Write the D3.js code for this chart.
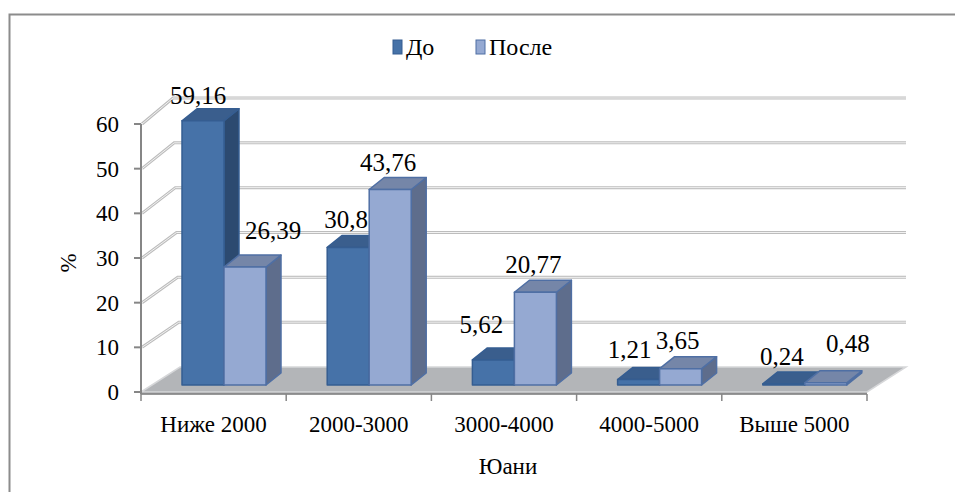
<!DOCTYPE html>
<html>
<head>
<meta charset="utf-8">
<script src="https://cdn.jsdelivr.net/npm/d3@7"></script>
</head>
<body style="margin:0">
<script>
// data
var categories = ["Ниже 2000", "2000-3000", "3000-4000", "4000-5000", "Выше 5000"];
var seriesNames = ["До", "После"];
var before = [59.16, 30.8, 5.62, 1.21, 0.24];
var after = [26.39, 43.76, 20.77, 3.65, 0.48];
var beforeLabels = ["59,16", "30,8", "5,62", "1,21", "0,24"];
var afterLabels = ["26,39", "43,76", "20,77", "3,65", "0,48"];
var yTicks = [0, 10, 20, 30, 40, 50, 60];

var w = 955, h = 492;
var svg = d3.select("body").append("svg")
    .attr("width", w)
    .attr("height", h)
    .attr("font-family", "Liberation Serif");

// chart frame
svg.append("rect")
    .attr("x", 9.5).attr("y", 14.5)
    .attr("width", 960).attr("height", 500)
    .attr("fill", "none")
    .attr("stroke", "#8c8c8c")
    .attr("stroke-width", 2);

//scales: front plane, back wall, bars
var yFront = d3.scaleLinear().domain([0, 60]).range([392, 124]);
var yBack = d3.scaleLinear().domain([0, 60]).range([367, 98]);
var xBack = d3.scaleLinear().domain([0, 60]).range([180, 173]);
var yBar = d3.scaleLinear().domain([0, 60]).range([385, 117]);
var x0 = d3.scaleBand().domain(categories).range([141, 867]);
var x1 = d3.scaleBand().domain(seriesNames).range([41, 125]);
var backRight = 906;
var depth = { dx: 15, dy: -12 };

// floor
svg.append("path")
    .attr("d", "M" + x0.range()[0] + "," + yFront(0) +
        " L" + xBack(0) + "," + yBack(0) +
        " L" + backRight + "," + yBack(0) +
        " L" + x0.range()[1] + "," + yFront(0) + " Z")
    .attr("fill", "#b3b5b8")
    .attr("stroke", "#d6d7d9")
    .attr("stroke-width", 1.5);
svg.append("line")
    .attr("x1", x0.range()[0]).attr("x2", x0.range()[1])
    .attr("y1", yFront(0) + 1.5).attr("y2", yFront(0) + 1.5)
    .attr("stroke", "#9a9b9e").attr("stroke-width", 2);

// gridlines (back wall + side diagonals)
var grid = svg.append("g");
yTicks.filter(function (d) { return d > 0; }).forEach(function (v) {
    var pts = [[x0.range()[0] + 1, yFront(v)], [xBack(v), yBack(v)], [backRight, yBack(v)]];
    grid.append("polyline")
        .attr("points", pts.join(" "))
        .attr("fill", "none")
        .attr("stroke", "#bdbdbd")
        .attr("stroke-width", 3);
    grid.append("polyline")
        .attr("points", pts.join(" "))
        .attr("fill", "none")
        .attr("stroke", "#f2f2f2")
        .attr("stroke-width", 1);
});

// y axis
var axisColor = "#868686";
svg.append("line")
    .attr("x1", 141).attr("x2", 141)
    .attr("y1", yFront(60)).attr("y2", yFront(0) + 2)
    .attr("stroke", axisColor).attr("stroke-width", 2);
svg.selectAll("line.ytick")
    .data(yTicks).enter()
    .append("line")
    .attr("class", "ytick")
    .attr("x1", 134).attr("x2", 141)
    .attr("y1", function (d) { return yFront(d); })
    .attr("y2", function (d) { return yFront(d); })
    .attr("stroke", axisColor).attr("stroke-width", 2);

// all text gets the serif face
function serif(sel, size) {
    return sel.attr("font-family", "Liberation Serif")
        .style("font-family", "'Liberation Serif'")
        .style("font-size", size + "px");
}

serif(svg.selectAll("text.ylab")
    .data(yTicks).enter()
    .append("text")
    .attr("class", "ylab")
    .attr("x", 119)
    .attr("y", function (d) { return yFront(d) + 8; })
    .attr("text-anchor", "end"), 23)
    .text(function (d) { return d; });

// x axis
svg.append("line")
    .attr("x1", 141).attr("x2", x0.range()[1])
    .attr("y1", yFront(0) + 2).attr("y2", yFront(0) + 2)
    .attr("stroke", axisColor).attr("stroke-width", 1.5);
var bounds = categories.map(function (c) { return x0(c); }).concat([x0.range()[1]]);
svg.selectAll("line.xtick")
    .data(bounds).enter()
    .append("line")
    .attr("class", "xtick")
    .attr("x1", function (d) { return d; })
    .attr("x2", function (d) { return d; })
    .attr("y1", yFront(0) + 2).attr("y2", yFront(0) + 9)
    .attr("stroke", axisColor).attr("stroke-width", 1.5);
serif(svg.selectAll("text.xlab")
    .data(categories).enter()
    .append("text")
    .attr("class", "xlab")
    .attr("x", function (d) { return x0(d) + x0.bandwidth() / 2; })
    .attr("y", 432)
    .attr("text-anchor", "middle"), 23)
    .text(function (d) { return d; });

// axis titles
serif(svg.append("text")
    .attr("x", 508).attr("y", 474)
    .attr("text-anchor", "middle"), 23)
    .text("Юани");
serif(svg.append("text")
    .attr("transform", "translate(76,263) rotate(-90)")
    .attr("text-anchor", "middle"), 23)
    .text("%");

// 3d bars
var colors = {
    "До": { front: "#4672a8", top: "#3a5e8d", side: "#2c4a70", edge: "#355d91" },
    "После": { front: "#95a9d2", top: "#7586a8", side: "#5e6d8c", edge: "#4f6fa4" }
};
var bars = [];
categories.forEach(function (c, i) {
    bars.push({ cat: c, s: "До", v: before[i], label: beforeLabels[i], i: i });
    bars.push({ cat: c, s: "После", v: after[i], label: afterLabels[i], i: i });
});
var bw = x1.bandwidth();
var g = svg.selectAll("g.bar")
    .data(bars).enter()
    .append("g")
    .attr("class", "bar");
function pts(d, face) {
    var xl = x0(d.cat) + x1(d.s), xr = xl + bw;
    var yt = yBar(d.v), yb = yBar(0);
    var dx = depth.dx, dy = depth.dy;
    if (face === "front") return [[xl, yt], [xr, yt], [xr, yb], [xl, yb]];
    if (face === "top") return [[xl, yt], [xl + dx, yt + dy], [xr + dx, yt + dy], [xr, yt]];
    return [[xr, yt], [xr + dx, yt + dy], [xr + dx, yb + dy], [xr, yb]];
}
["side", "top", "front"].forEach(function (face) {
    g.append("polygon")
        .attr("points", function (d) { return pts(d, face).join(" "); })
        .attr("fill", function (d) { return colors[d.s][face]; })
        .attr("stroke", function (d) { return colors[d.s].edge; })
        .attr("stroke-width", 1.5)
        .attr("stroke-linejoin", "round");
});

// data labels; nudges avoid overlap like the original
var nudge = {
    "До": [[-3, 2], [0, 0], [-10, -8], [-7, -3], [0, 0]],
    "После": [[30, -9], [0, 0], [0, 0], [-1, -1], [24, -12]]
};
serif(g.append("text")
    .attr("x", function (d) { return x0(d.cat) + x1(d.s) + bw / 2 - 2 + nudge[d.s][d.i][0]; })
    .attr("y", function (d) { return yBar(d.v) - 19 + nudge[d.s][d.i][1]; })
    .attr("text-anchor", "middle"), 25)
    .text(function (d) { return d.label; });

// legend
var legend = svg.append("g").attr("transform", "translate(393,40)");
var lx = [0, 83];
seriesNames.forEach(function (s, i) {
    legend.append("rect")
        .attr("x", lx[i]).attr("y", 0)
        .attr("width", 9).attr("height", 14)
        .attr("fill", colors[s].front)
        .attr("stroke", colors[s].edge)
        .attr("stroke-width", 1);
    serif(legend.append("text")
        .attr("x", lx[i] + 13).attr("y", 15), 24)
        .text(s);
});
</script>
</body>
</html>
